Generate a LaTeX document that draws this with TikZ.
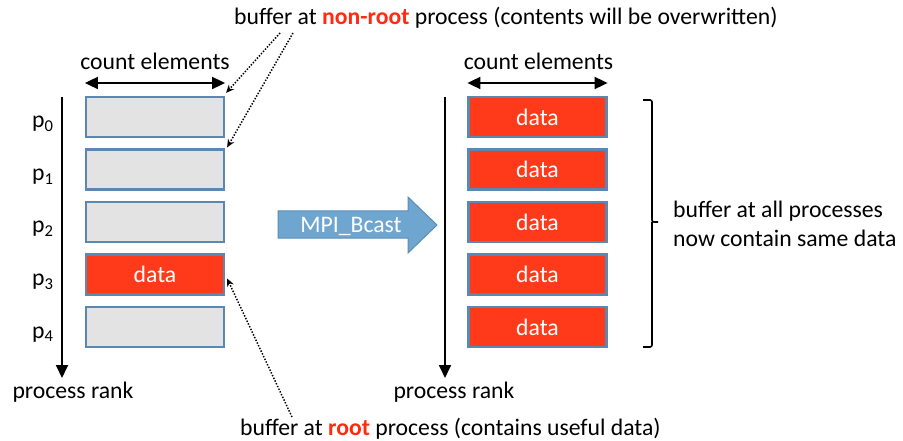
\documentclass[tikz,border=0pt]{standalone}
\usepackage{fontspec}
\setmainfont{Carlito}
\usetikzlibrary{arrows.meta,calc}
\definecolor{bufred}{HTML}{FF3A1A}
\definecolor{bufgray}{HTML}{E3E3E3}
\definecolor{bufedge}{HTML}{5B87B3}
\definecolor{bcastfill}{HTML}{6FA6D0}
\definecolor{bcastedge}{HTML}{5A8DB8}
\definecolor{hlred}{HTML}{FF2A10}
\tikzset{
  txt/.style={font=\fontsize{23.7}{28}\selectfont, inner sep=0pt},
  buf/.style={draw=bufedge, line width=2.2pt, minimum width=138pt, minimum height=40pt, inner sep=0pt},
  emptybuf/.style={buf, fill=bufgray},
  databuf/.style={buf, fill=bufred, text=white, font=\fontsize{23.7}{28}\selectfont},
  axis/.style={line width=1.8pt, -{Triangle[length=13pt,width=12pt]}},
  span/.style={line width=1.8pt, {Triangle[length=13pt,width=12pt]}-{Triangle[length=13pt,width=12pt]}},
  pointer/.style={line width=1.5pt, dash pattern=on 1.4pt off 1.6pt, -{Stealth[length=8pt,width=7pt]}},
}
\begin{document}
\begin{tikzpicture}[x=1pt,y=-1pt]
\useasboundingbox (0,0) rectangle (903,441);

% left column: buffers before the broadcast
\foreach \i/\y in {0/117,1/169.5,2/222,4/327}{
  \node[emptybuf] (l\i) at (155,\y) {};
}
\node[databuf] (l3) at (155,274.5) {data};
\foreach \i/\y in {0/117,1/169.5,2/222,3/274.5,4/327}{
  \node[txt, anchor=base west] (p\i) at (32,\y+11) {p\textsubscript{\i}};
}

% right column: buffers after the broadcast
\foreach \i/\y in {0/117,1/169.5,2/222,3/274.5,4/327}{
  \node[databuf] (r\i) at (537.5,\y) {data};
}

% process rank axes
\coordinate (la0) at (62,97);
\coordinate (la1) at (62,378);
\draw[axis] (la0) -- (la1);
\node[txt, anchor=base] (lrank) at (73,398) {process rank};
\coordinate (ra0) at (445,97);
\coordinate (ra1) at (445,378);
\draw[axis] (ra0) -- (ra1);
\node[txt, anchor=base] (rrank) at (454,398) {process rank};

% count elements
\node[txt, anchor=base] (lcount) at (155,70) {count elements};
\draw[span] (l0.north west |- 0,83) coordinate (lc0) -- (l0.north east |- 0,83) coordinate (lc1);
\node[txt, anchor=base] (rcount) at (538.5,70) {count elements};
\draw[span] (r0.north west |- 0,83) coordinate (rc0) -- (r0.north east |- 0,83) coordinate (rc1);

% annotations
\node[txt, anchor=base west] (toptext) at (234,25)
  {buffer at \textcolor{hlred}{\textbf{non-root}} process (contents will be overwritten)};
\coordinate (tp0) at (280,33);
\coordinate (tp1) at (293,33);
\draw[pointer] (tp0) -- ($(l0.north east)+(1,-3)$);
\draw[pointer] (tp1) -- ($(l1.north east)+(2,-1)$);

\node[txt, anchor=base west] (bottext) at (240,435)
  {buffer at \textcolor{hlred}{\textbf{root}} process (contains useful data)};
\coordinate (bp0) at (292,417);
\draw[pointer] (bp0) -- ($(l3.east)+(2,4)$);

% broadcast arrow
\draw[fill=bcastfill, draw=bcastedge, line width=1pt, line join=miter]
  (278,211) -- (408,211) -- (408,197) -- (437,225) -- (408,253) -- (408,238) -- (278,238) -- cycle;
\node[txt, text=white] (bcast) at (351,226) {MPI\_Bcast};

% bracket grouping the broadcast results
\draw[line width=1.6pt, rounded corners=2pt]
  (643,100) -- (652,100) -- (652,222) -- (658,222) (652,222) -- (652,347) -- (643,347);
\coordinate (brtip) at (658,222);
\node[txt, anchor=base west] (alltext) at (673,218) {buffer at all processes};
\node[txt, anchor=base west] (alltext2) at (673,247) {now contain same data};
\end{tikzpicture}
\end{document}
